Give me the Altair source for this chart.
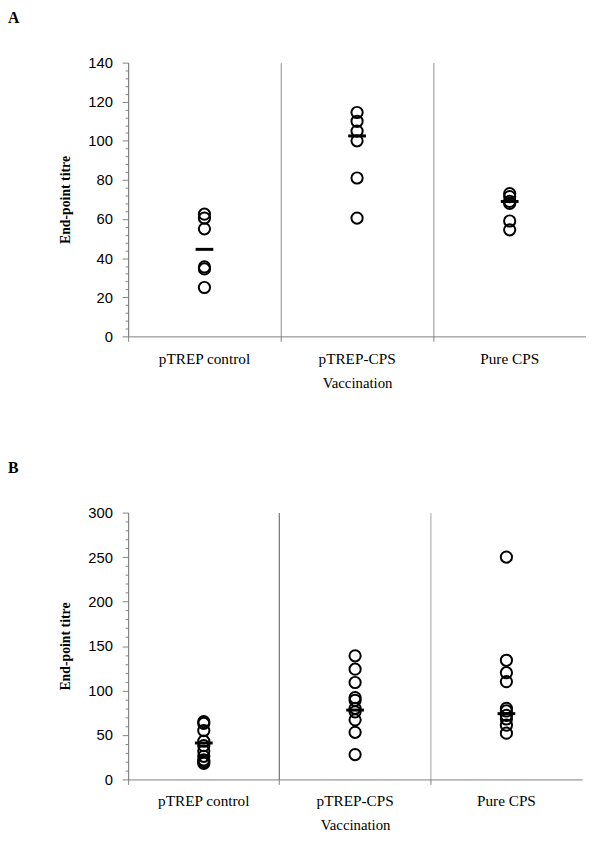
import altair as alt
import pandas as pd

groups = ["pTREP control", "pTREP-CPS", "Pure CPS"]

# Panel A values (end-point titre)
a_control = [62.5, 60.5, 55, 35.5, 34.5, 25]
a_cps = [114.5, 110, 105, 100, 81, 60.5]
a_pure = [73, 71.5, 69, 68, 59, 54.5]
a_median = [44.5, 102.5, 69]

# Panel B values
b_control = [65, 63, 55, 43, 38, 32, 26, 22, 20, 18]
b_cps = [139, 124, 109, 92, 89, 80, 76, 67, 53, 28]
b_pure = [250, 134, 120, 110, 80, 77, 72, 68, 61, 52]
b_median = [41, 78, 74]

a_ticks = list(range(0, 141, 4))
b_ticks = list(range(0, 301, 10))


def panel(letter, series, medians, ymax, ticks, major, width, height,
          label_pad, title_pad, title_offset, divider_colors):
    rows = []
    for g, vals in zip(groups, series):
        for v in vals:
            rows.append({"group": g, "titre": v})
    pts = pd.DataFrame(rows)
    med = pd.DataFrame({"group": groups, "titre": medians})

    x = alt.X(
        "group:N",
        sort=groups,
        scale=alt.Scale(type="band", domain=groups, paddingInner=0, paddingOuter=0),
        axis=alt.Axis(
            title="Vaccination",
            bandPosition=0,
            grid=True,
            gridColor={"condition": {"test": "datum.value === 'pTREP-CPS'",
                                     "value": divider_colors[0]},
                       "value": divider_colors[1]},
            gridWidth=1,
            ticks=True,
            tickSize=5,
            tickColor="#808080",
            domainColor="#808080",
            labelAngle=0,
            labelFont="Liberation Serif",
            labelFontSize=15.5,
            labelColor="black",
            labelPadding=label_pad,
            titleFont="Liberation Serif",
            titleFontSize=15,
            titleFontWeight="normal",
            titleColor="black",
            titlePadding=title_pad,
        ),
    )
    y = alt.Y(
        "titre:Q",
        scale=alt.Scale(domain=[0, ymax], nice=False, zero=True),
        axis=alt.Axis(
            title="End-point titre",
            values=ticks,
            labelExpr=f"datum.value % {major} === 0 ? datum.label : ''",
            tickSize={"condition": {"test": f"datum.value % {major} === 0", "value": 6},
                      "value": 3},
            tickColor="#808080",
            domainColor="#808080",
            grid=False,
            labelFont="Liberation Sans",
            labelFontSize=15,
            labelColor="black",
            labelPadding=10,
            titleFont="Liberation Serif",
            titleFontSize=14,
            titleFontWeight="bold",
            titleColor="black",
            titlePadding=15,
        ),
    )
    circles = alt.Chart(pts).mark_point(
        shape="circle", filled=False, size=130, strokeWidth=2,
        color="black", opacity=1
    ).encode(x=x, y=y)
    bars = alt.Chart(med).mark_tick(
        orient="horizontal", size=18, thickness=3, color="black", opacity=1
    ).encode(x=x, y=y)
    return alt.layer(circles, bars).properties(
        width=width,
        height=height,
        title=alt.TitleParams(
            letter, anchor="start", frame="group", dx=-122, offset=title_offset,
            font="Liberation Serif", fontSize=16, fontWeight="bold", color="black",
        ),
    )


chart_a = panel("A", [a_control, a_cps, a_pure], a_median, 140, a_ticks, 20,
                465, 278, 10.5, 8.5, 30, ["#8c8c8c", "#8c8c8c"])
chart_b = panel("B", [b_control, b_cps, b_pure], b_median, 300, b_ticks, 50,
                461, 271, 9.5, 8.5, 30, ["#555555", "#a0a0a0"])

chart = alt.vconcat(chart_a, chart_b, spacing=71).properties(
    padding={"left": 0, "top": -4, "right": 0, "bottom": 0}
).configure_view(stroke=None)

chart.save("out.html", embed_options={"renderer": "svg", "actions": False})
